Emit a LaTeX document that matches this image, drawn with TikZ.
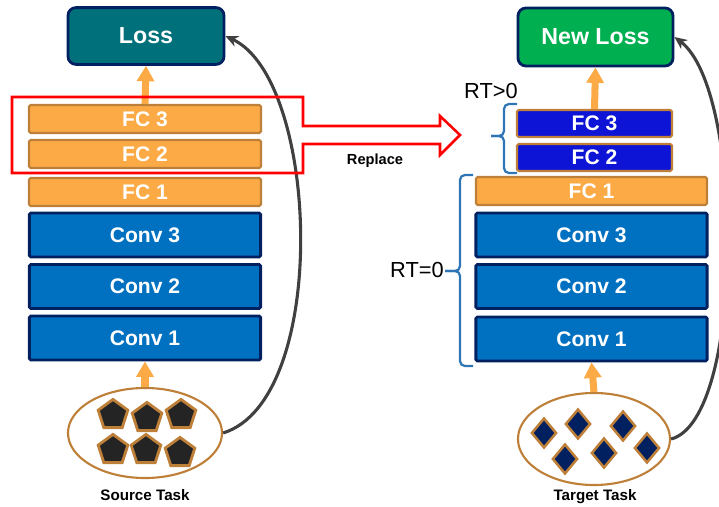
\documentclass[tikz,border=0pt]{standalone}
\usepackage{fontspec}
\setmainfont{Liberation Sans}
\usetikzlibrary{arrows.meta, shapes.geometric}
\definecolor{tealloss}{RGB}{0,112,122}
\definecolor{greenloss}{RGB}{0,176,80}
\definecolor{convblue}{RGB}{0,112,192}
\definecolor{navy}{RGB}{0,32,96}
\definecolor{fcorange}{RGB}{251,170,70}
\definecolor{fcbrown}{RGB}{190,128,56}
\definecolor{newblue}{RGB}{14,20,214}
\definecolor{bracecol}{RGB}{46,117,182}
\definecolor{curvegray}{RGB}{64,64,64}
\begin{document}
\begin{tikzpicture}[x=0.025cm, y=-0.025cm,
          font=\bfseries,
          lossbox/.style={draw=navy, line width=2pt, rounded corners=0.2cm, text=white,
            font=\fontsize{16.5}{19}\selectfont\bfseries, minimum height=1.42cm},
          fcbox/.style={draw=fcbrown, fill=fcorange, line width=1.5pt, rounded corners=0.04cm, text=white,
            font=\fontsize{15}{17}\selectfont\bfseries, minimum height=0.7cm, inner sep=0pt},
          newfc/.style={fcbox, fill=newblue, minimum width=3.875cm, minimum height=0.675cm},
          convbox/.style={draw=navy, fill=convblue, line width=2pt, rounded corners=0.04cm, text=white,
            font=\fontsize{15}{17}\selectfont\bfseries, minimum width=5.78cm, minimum height=1.1cm, inner sep=0pt},
          task/.style={draw=fcbrown, fill=white, ellipse, line width=1.5pt},
          penta/.style={regular polygon, regular polygon sides=5, draw=fcbrown, fill=black!86,
            line width=2pt, minimum size=0.78cm, inner sep=0pt},
          gem/.style={diamond, draw=fcbrown, fill=navy, line width=1.8pt, inner sep=0pt,
            minimum width=0.63cm, minimum height=0.75cm},
          caption/.style={font=\fontsize{10.8}{13}\selectfont\bfseries},
          rtlabel/.style={font=\fontsize{15.5}{18}\selectfont},
          uparr/.style={draw=fcorange, line width=5pt, -{Triangle[width=12pt, length=11pt]}},
          backarr/.style={draw=curvegray, line width=2.2pt, -{Stealth[length=9pt, width=8pt]}},
          brc/.style={draw=bracecol, line width=1.6pt, rounded corners=3.5pt}]
        \useasboundingbox (0,0) rectangle (719,507);
        \clip (0,0) rectangle (719,507);
        % source network
        \node[lossbox, fill=tealloss, minimum width=3.9cm] (loss) at (146,36) {Loss};
        \node[fcbox, minimum width=5.8cm] (fc3) at (145,119) {FC 3};
        \node[fcbox, minimum width=5.8cm] (fc2) at (145,154) {FC 2};
        \node[fcbox, minimum width=5.8cm] (fc1) at (145,192) {FC 1};
        \node[convbox] (conv3) at (145,235) {Conv 3};
        \node[convbox] (conv2) at (145,286.5) {Conv 2};
        \node[convbox] (conv1) at (145,338) {Conv 1};
        \node[task, minimum width=3.85cm, minimum height=2.25cm] (src) at (145,433) {};
        \foreach \px/\py [count=\i] in {113/415, 147/418, 181/415, 113/450, 146/450, 180/453}
          \node[penta] (p\i) at (\px,\py) {};
        \node[caption] (srclabel) at (145,495) {Source Task};
        \draw[uparr] (src.north) -- (conv1.south);
        \draw[uparr] (fc3.north) -- (loss.south);
        \draw[backarr] (src.east) .. controls (330,400) and (320,80) .. (loss.east);

        % replace marker
        \draw[red, line width=1.8pt, line join=miter] (12,97) -- (303,97) -- (303,126) -- (440,126) -- (440,116)
          -- (460,135) -- (440,155) -- (440,144) -- (303,144) -- (303,173) -- (12,173) -- cycle;
        \node[caption, font=\fontsize{10.4}{12}\selectfont\bfseries] (replace) at (375,161) {Replace};

        % target network
        \node[lossbox, fill=greenloss, minimum width=3.875cm, minimum height=1.45cm] (newloss) at (595.5,37) {New Loss};
        \node[newfc] (nfc3) at (594.5,123.5) {FC 3};
        \node[newfc] (nfc2) at (594.5,157.5) {FC 2};
        \node[fcbox, minimum width=5.775cm] (tfc1) at (591.5,191) {FC 1};
        \node[convbox] (tconv3) at (591.5,235) {Conv 3};
        \node[convbox] (tconv2) at (591.5,286.5) {Conv 2};
        \node[convbox] (tconv1) at (591.5,339) {Conv 1};
        \node[task, minimum width=3.8cm, minimum height=2.3cm] (tgt) at (594,439) {};
        \foreach \px/\py [count=\i] in {544/433, 578/424, 623/426, 565/459, 604/453, 647/448}
          \node[gem] (d\i) at (\px,\py) {};
        \node[caption] (tgtlabel) at (595,497) {Target Task};
        \draw[uparr] (tgt.north) -- (tconv1.south);
        \draw[uparr] (nfc3.north) -- (newloss.south);
        \draw[backarr] (tgt.east) .. controls (745,420) and (745,90) .. (newloss.east);

        % retrained / frozen parts
        \draw[brc] (517,104) -- (504,104) -- (504,136) -- (491,136);
        \draw[brc] (491,136) -- (504,136) -- (504,173) -- (517,173);
        \draw[brc] (473,175) -- (460,175) -- (460,271) -- (445,271);
        \draw[brc] (445,271) -- (460,271) -- (460,366) -- (473,366);
        \node[rtlabel] (rtpos) at (491,91) {RT>0};
        \node[rtlabel] (rtzero) at (417,270) {RT=0};
\end{tikzpicture}
\end{document}
